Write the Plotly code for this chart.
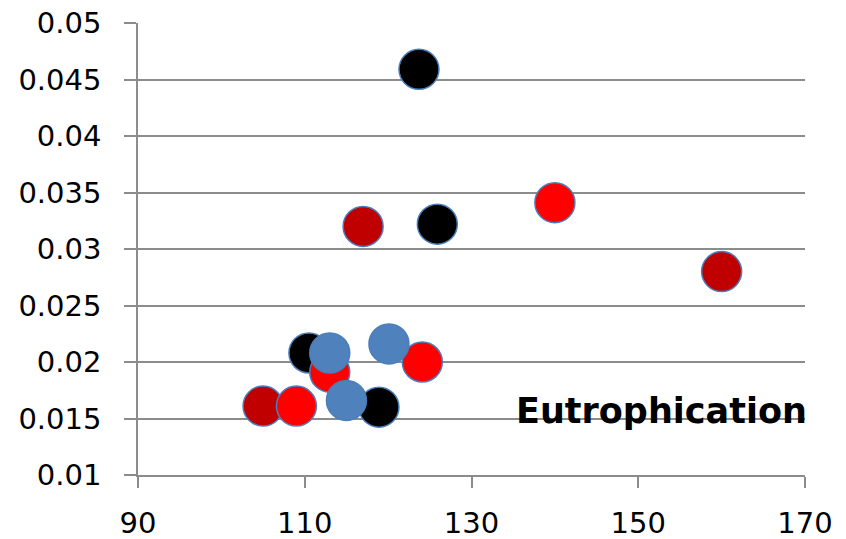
import plotly.graph_objects as go

# Eutrophication scores per scenario group
dark_red_x = [105, 117, 160]
dark_red_y = [0.0161, 0.0320, 0.0280]

black_x = [110.5, 118.9, 123.7, 125.9]
black_y = [0.0208, 0.0160, 0.0459, 0.0322]

red_x = [109, 113, 124.1, 140]
red_y = [0.0161, 0.0191, 0.0200, 0.0341]

blue_x = [113, 115, 120.1]
blue_y = [0.0208, 0.0166, 0.0216]

x_ticks = [90, 110, 130, 150, 170]
y_ticks = [0.01, 0.015, 0.02, 0.025, 0.03, 0.035, 0.04, 0.045, 0.05]
y_tick_text = ["0.01", "0.015", "0.02", "0.025", "0.03", "0.035", "0.04", "0.045", "0.05"]

series = [
    (dark_red_x, dark_red_y, "#C00000"),
    (black_x, black_y, "#000000"),
    (red_x, red_y, "#FF0000"),
    (blue_x, blue_y, "#4F81BD"),
]

fig = go.Figure()
for xs, ys, color in series:
    fig.add_trace(go.Scatter(
        x=xs, y=ys, mode="markers",
        marker=dict(size=40, color=color, line=dict(color="#4A7EBB", width=1.5)),
        showlegend=False, hoverinfo="skip",
    ))

grid = "#8C8C8C"
fig.update_layout(
    width=846, height=539,
    margin=dict(l=138, r=41, t=23, b=64),
    paper_bgcolor="white", plot_bgcolor="white",
    font=dict(family="DejaVu Sans", size=29, color="black"),
    xaxis=dict(
        range=[90, 170], tickvals=x_ticks, ticks="outside", ticklen=11,
        tickcolor=grid, tickwidth=1.5, showgrid=False, zeroline=False,
        showline=True, linecolor=grid, linewidth=1.5, ticklabelstandoff=10,
        automargin=False,
    ),
    yaxis=dict(
        range=[0.01, 0.05], tickvals=y_ticks, ticktext=y_tick_text,
        ticks="outside", ticklen=12, tickcolor=grid, tickwidth=1.5,
        showgrid=True, gridcolor=grid, gridwidth=1.5, zeroline=False,
        showline=True, linecolor=grid, linewidth=1.5, ticklabelstandoff=17,
        automargin=False,
    ),
    annotations=[dict(
        text="<b>Eutrophication</b>", xref="paper", yref="paper",
        x=1.006, y=0.142, xanchor="right", yanchor="middle", showarrow=False,
        font=dict(family="DejaVu Sans", size=35, color="black"),
    )],
)

fig.write_html("out.html")
